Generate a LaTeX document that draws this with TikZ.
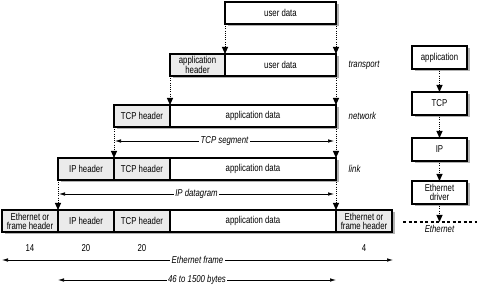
\documentclass[tikz,border=0pt]{standalone}
\usepackage{fontspec}
\setmainfont{Liberation Sans}[FakeStretch=0.78]
\usetikzlibrary{arrows.meta,positioning,shadows}

\tikzset{
  cell/.style={draw, line width=1.1pt, outer sep=0pt, inner sep=1pt,
    minimum height=22pt, fill=white, align=center,
    font=\fontsize{10}{9}\selectfont,
    drop shadow={shadow xshift=2.5pt, shadow yshift=-2.5pt, fill=black!30, opacity=1}},
  hdr/.style={cell, fill=black!8, minimum width=56pt},
  layer/.style={cell, minimum width=55pt, minimum height=23pt},
  down/.style={line width=1pt, dash pattern=on 1pt off 1.2pt, -{Triangle[length=7pt,width=6pt]}},
  span/.style={line width=0.6pt, {Latex[length=6pt,width=3.5pt]}-{Latex[length=6pt,width=3.5pt]}},
  tag/.style={font=\fontsize{10}{10}\selectfont\itshape, inner sep=1.5pt},
  num/.style={font=\fontsize{10}{10}\selectfont, inner sep=0pt},
}

\begin{document}
\begin{tikzpicture}[x=1pt,y=-1pt]
  \useasboundingbox (0,0) rectangle (477,288);

  % user data
  \node[cell, minimum width=111pt, anchor=north west] (ud) at (225,2) {user data};

  % transport
  \node[hdr, minimum width=55pt, anchor=north west] (ah1) at (170,54) {application\\header};
  \node[cell, minimum width=111pt, right=0pt of ah1] (ud1) {user data};
  \node[tag, anchor=west] at (347,65) {transport};

  % network
  \node[hdr, anchor=north west] (th2) at (114,105) {TCP header};
  \node[cell, minimum width=166pt, right=0pt of th2] (ad2) {application data};
  \node[tag, anchor=west] at (347,116) {network};

  % link
  \node[hdr, anchor=north west] (ih3) at (58,158) {IP header};
  \node[hdr, right=0pt of ih3] (th3) {TCP header};
  \node[cell, minimum width=166pt, right=0pt of th3] (ad3) {application data};
  \node[tag, anchor=west] at (347,169) {link};

  % Ethernet frame
  \node[hdr, anchor=north west] (eh4) at (2,210) {Ethernet or\\frame header};
  \node[hdr, right=0pt of eh4] (ih4) {IP header};
  \node[hdr, right=0pt of ih4] (th4) {TCP header};
  \node[cell, minimum width=166pt, right=0pt of th4] (ad4) {application data};
  \node[hdr, right=0pt of ad4] (et4) {Ethernet or\\frame header};

  % encapsulation
  \draw[down] (ud.south west) -- (ud1.north west);
  \draw[down] (ud.south east) -- (ud1.north east);
  \draw[down] (ah1.south west) -- (ad2.north west);
  \draw[down] (ud1.south east) -- (ad2.north east);
  \draw[down] (th2.south west) -- (th3.north west);
  \draw[down] (ad2.south east) -- (ad3.north east);
  \draw[down] (ih3.south west) -- (ih4.north west);
  \draw[down] (ad3.south east) -- (ad4.north east);

  % spans
  \draw[span] ([yshift=-14pt,xshift=1pt]th2.south west) -- ([yshift=-14pt,xshift=-2pt]ad2.south east)
    node[tag, midway, fill=white] {TCP segment};
  \draw[span] ([yshift=-14pt,xshift=1pt]ih3.south west) -- ([yshift=-14pt,xshift=-2pt]ad3.south east)
    node[tag, midway, fill=white] {IP datagram};
  \node[num] (n14) at ([yshift=-16pt]eh4.south) {14};
  \node[num] (n20a) at ([yshift=-16pt]ih4.south) {20};
  \node[num] (n20b) at ([yshift=-16pt]th4.south) {20};
  \node[num] (n4) at ([yshift=-16pt]et4.south) {4};
  \draw[span] ([yshift=-28pt]eh4.south west) -- ([yshift=-28pt,xshift=1pt]et4.south east)
    node[tag, midway, fill=white] {Ethernet frame};
  \draw[span] ([yshift=-48pt]ih4.south west) -- ([yshift=-48pt]ad4.south east)
    node[tag, midway, fill=white] {46 to 1500 bytes};

  % protocol stack
  \node[layer, anchor=north west] (app) at (412,46) {application};
  \node[layer, below=23pt of app] (tcp) {TCP};
  \node[layer, below=23pt of tcp] (ip) {IP};
  \node[layer, below=20pt of ip] (drv) {Ethernet\\driver};
  \draw[down] (app) -- (tcp);
  \draw[down] (tcp) -- (ip);
  \draw[down] (ip) -- (drv);
  \coordinate (wl) at (403,222);
  \coordinate (wr) at (477,222);
  \draw[line width=1.2pt, dash pattern=on 3pt off 2.5pt] (wl) -- (wr);
  \draw[down] (drv.south) -- (drv.south |- wl);
  \node[tag, anchor=north] at ([yshift=-2pt]drv.south |- wl) {Ethernet};
\end{tikzpicture}
\end{document}
